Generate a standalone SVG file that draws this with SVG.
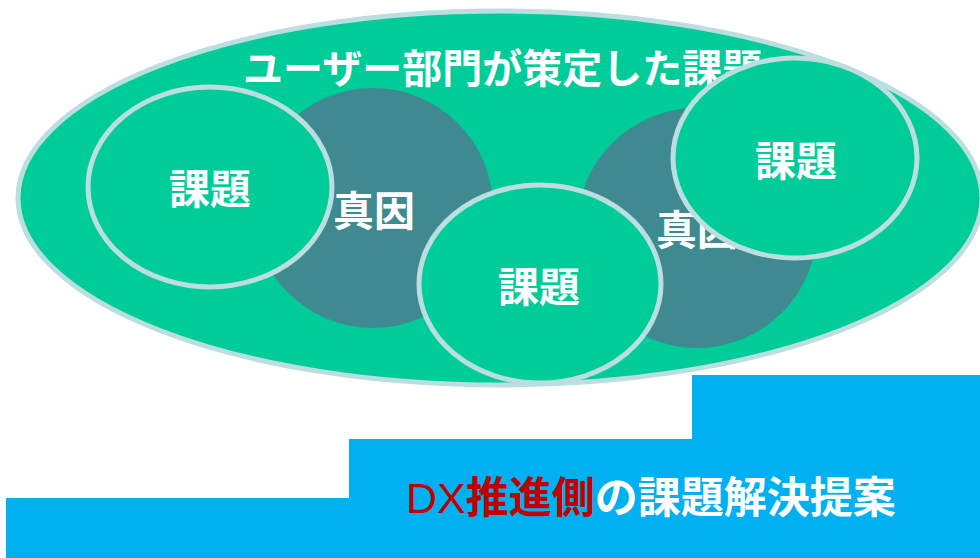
<svg xmlns="http://www.w3.org/2000/svg" width="980" height="558" viewBox="0 0 980 558">
<style>
.big{fill:#00CC99;stroke:#BBDFE1;stroke-width:5}
.cause{fill:#3F8A90}
.issue{fill:#00CC99;stroke:#BBDFE1;stroke-width:5}
.lbl{font-family:"Noto Sans CJK JP","Noto Sans",sans-serif;font-weight:bold;fill:#FFFFFF}
</style>
<rect width="980" height="558" fill="#FFFFFF"/>
<g id="user-issues">
<ellipse class="big" cx="500" cy="198" rx="482" ry="187"/>
<text class="lbl" x="243" y="83" font-size="40">ユーザー部門が策定した課題</text>
</g>
<g id="cause-left">
<circle class="cause" cx="373" cy="208" r="120"/>
<text class="lbl" x="374" y="226" font-size="41" text-anchor="middle">真因</text>
</g>
<g id="cause-right">
<circle class="cause" cx="697" cy="228" r="120"/>
<text class="lbl" x="697" y="245" font-size="41" text-anchor="middle">真因</text>
</g>
<g id="issue-left">
<ellipse class="issue" cx="210" cy="187" rx="122" ry="100"/>
<text class="lbl" x="210" y="204" font-size="41" text-anchor="middle">課題</text>
</g>
<g id="issue-middle">
<ellipse class="issue" cx="540" cy="284" rx="121" ry="99"/>
<text class="lbl" x="539" y="302" font-size="41" text-anchor="middle">課題</text>
</g>
<g id="issue-right">
<ellipse class="issue" cx="795" cy="158" rx="122" ry="100"/>
<text class="lbl" x="796" y="176" font-size="41" text-anchor="middle">課題</text>
</g>
<g id="dx-proposal">
<polygon points="6,558 6,498 349,498 349,439 692,439 692,375 980,375 980,558" fill="#00B0F0"/>
<text x="406" y="513" font-size="43" font-family="'Noto Sans CJK JP','Noto Sans',sans-serif"><tspan font-family="'Liberation Sans',sans-serif" fill="#C00000">DX</tspan><tspan font-weight="bold" fill="#C00000">推進側</tspan><tspan font-weight="bold" fill="#FFFFFF">の課題解決提案</tspan></text>
</g>
<g id="connectors"/>
</svg>
